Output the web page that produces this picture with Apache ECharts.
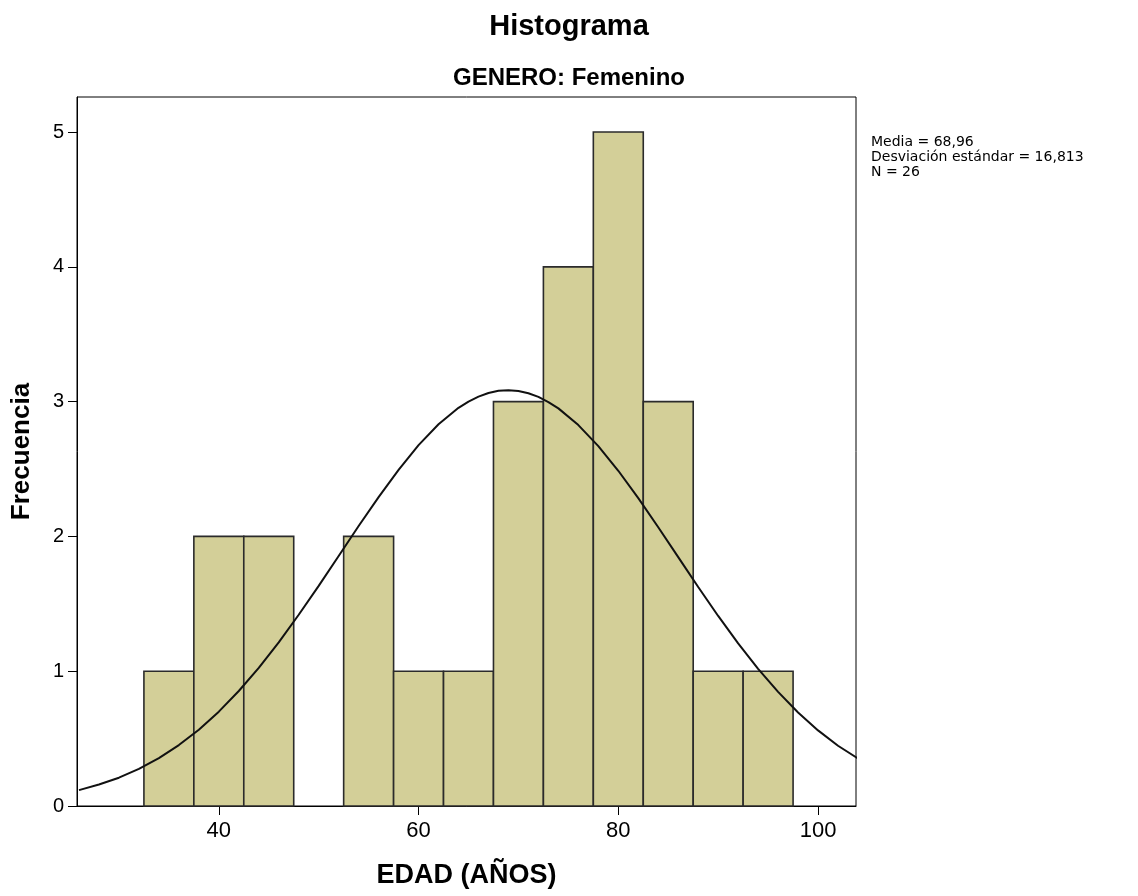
<!DOCTYPE html>
<html>
<head>
<meta charset="utf-8">
<script src="https://cdn.jsdelivr.net/npm/echarts@6/dist/echarts.min.js"></script>
<style>
  html, body { margin: 0; padding: 0; background: #fff; }
  #chart { width: 1138px; height: 896px; }
</style>
</head>
<body>
<div id="chart"></div>
<script>
// Histogram bins (lower edge, width 5 years) and counts
const binStarts = [32.5, 37.5, 42.5, 47.5, 52.5, 57.5, 62.5, 67.5, 72.5, 77.5, 82.5, 87.5, 92.5];
const binWidth = 5;
const counts = [1, 2, 2, 0, 2, 1, 1, 3, 4, 5, 3, 1, 1];

// Fitted normal curve, read along the age axis (denser around the peak)
const curveX = [26, 28, 30, 32, 34, 36, 38, 40, 42, 44, 46, 48, 50, 52, 54, 56, 58, 60, 62, 64,
                65, 66, 67, 68, 69, 70, 71, 72, 73, 74, 76, 78, 80, 82, 84, 86, 88, 90, 92, 94,
                96, 98, 100, 102, 104];
const curveY = [0.118, 0.159, 0.21, 0.275, 0.355, 0.452, 0.566, 0.7, 0.853, 1.025, 1.214, 1.419,
                1.633, 1.855, 2.077, 2.292, 2.494, 2.677, 2.832, 2.954,
                3.0, 3.037, 3.064, 3.08, 3.085, 3.079, 3.062, 3.035, 2.997, 2.95, 2.826, 2.67,
                2.487, 2.284, 2.068, 1.846, 1.625, 1.41, 1.206, 1.018,
                0.847, 0.694, 0.561, 0.447, 0.352];

const xTicks = [40, 60, 80, 100];
const yTicks = [0, 1, 2, 3, 4, 5];
const statLines = ['Media = 68,96', 'Desviación estándar = 16,813', 'N = 26'];

const font = '"Liberation Sans", Arial, sans-serif';
const barData = binStarts.map((s, i) => [s, s + binWidth, counts[i]]);
const curveData = curveX.map((x, i) => [x, curveY[i]]);

const chart = echarts.init(document.getElementById('chart'));
chart.setOption({
  animation: false,
  backgroundColor: '#ffffff',
  title: [
    { text: 'Histograma', left: 'center', top: 7,
      textStyle: { fontFamily: font, fontSize: 29, fontWeight: 'bold', color: '#000' } },
    { text: 'GENERO: Femenino', left: 'center', top: 61,
      textStyle: { fontFamily: font, fontSize: 24, fontWeight: 'bold', color: '#000' } }
  ],
  graphic: [{
    type: 'text', left: 871, top: 135,
    style: { text: statLines.join('\n'), font: '14px "DejaVu Sans", sans-serif', fill: '#000', lineHeight: 15 }
  }],
  grid: { left: 77, top: 97, right: 282, bottom: 90, show: true, borderColor: '#000', borderWidth: 1, backgroundColor: 'transparent' },
  xAxis: {
    type: 'value', min: 25.8, max: 103.8,
    name: 'EDAD (AÑOS)', nameLocation: 'middle', nameGap: 56,
    nameTextStyle: { fontFamily: font, fontSize: 27, fontWeight: 'bold', color: '#000' },
    axisLine: { show: true, lineStyle: { color: '#000', width: 1 } },
    axisTick: { show: true, inside: false, length: 9, customValues: xTicks, lineStyle: { color: '#000' } },
    axisLabel: { customValues: xTicks, fontFamily: font, fontSize: 22, color: '#000', margin: 14 },
    splitLine: { show: false }
  },
  yAxis: {
    type: 'value', min: 0, max: 5.26,
    name: 'Frecuencia', nameLocation: 'middle', nameGap: 42, nameRotate: 90,
    nameTextStyle: { fontFamily: font, fontSize: 26, fontWeight: 'bold', color: '#000' },
    axisLine: { show: true, lineStyle: { color: '#000', width: 1 } },
    axisTick: { show: true, inside: false, length: 9, customValues: yTicks, lineStyle: { color: '#000' } },
    axisLabel: { customValues: yTicks, fontFamily: font, fontSize: 20, color: '#000', margin: 13 },
    splitLine: { show: false }
  },
  series: [
    {
      type: 'custom',
      data: barData,
      renderItem: function (params, api) {
        const h = api.value(2);
        if (!h) return null;
        const p0 = api.coord([api.value(0), 0]);
        const p1 = api.coord([api.value(1), h]);
        return {
          type: 'rect',
          shape: { x: p0[0], y: p1[1], width: p1[0] - p0[0], height: p0[1] - p1[1] },
          style: { fill: '#d3cf98', stroke: '#2b2b2b', lineWidth: 1.6 }
        };
      },
      z: 2
    },
    {
      type: 'line',
      data: curveData,
      smooth: false,
      showSymbol: false,
      lineStyle: { color: '#111', width: 2 },
      z: 3
    }
  ]
});
</script>
</body>
</html>
